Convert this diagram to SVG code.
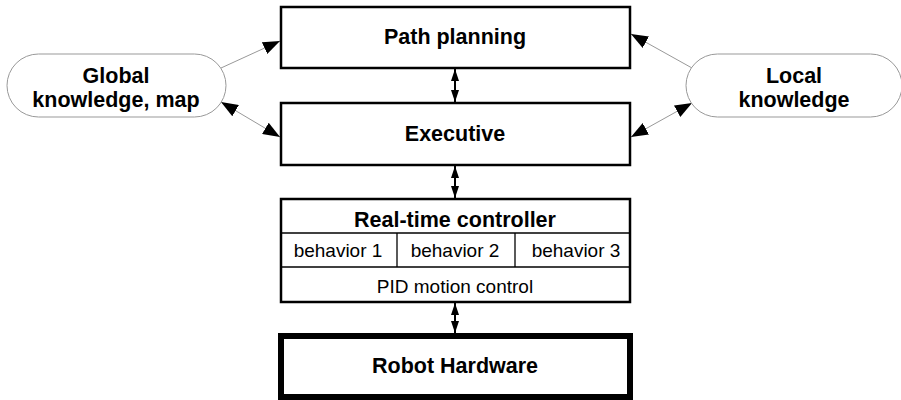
<svg xmlns="http://www.w3.org/2000/svg" width="901" height="400" viewBox="0 0 901 400">
<style>
.box{fill:#fff;stroke:#000;stroke-width:2.5}
.pill{fill:#fff;stroke:#999;stroke-width:1}
.div{stroke:#000;stroke-width:1.3}
.b{font-family:"Liberation Sans",Arial,sans-serif;font-weight:bold;font-size:21.5px;fill:#000;text-anchor:middle}
.r{font-family:"Liberation Sans",Arial,sans-serif;font-size:19px;fill:#000;text-anchor:middle}
.diag{stroke:#999;stroke-width:1;fill:none;marker-end:url(#big)}
.both{marker-start:url(#bigs)}
.vert{stroke:#000;stroke-width:2;fill:none;marker-end:url(#sm);marker-start:url(#sms)}
</style>
<defs>
<marker id="big" markerUnits="userSpaceOnUse" markerWidth="17" markerHeight="13" refX="17" refY="6.5" orient="auto"><path d="M0,0 L17,6.5 L0,13 Z" fill="#000"/></marker>
<marker id="bigs" markerUnits="userSpaceOnUse" markerWidth="17" markerHeight="13" refX="0" refY="6.5" orient="auto"><path d="M17,0 L0,6.5 L17,13 Z" fill="#000"/></marker>
<marker id="sm" markerUnits="userSpaceOnUse" markerWidth="12" markerHeight="8" refX="12" refY="4" orient="auto"><path d="M0,0 L12,4 L0,8 Z" fill="#000"/></marker>
<marker id="sms" markerUnits="userSpaceOnUse" markerWidth="12" markerHeight="8" refX="0" refY="4" orient="auto"><path d="M12,0 L0,4 L12,8 Z" fill="#000"/></marker>
</defs>
<g id="connectors">
<line class="diag" x1="221" y1="68" x2="280" y2="41"/>
<line class="diag both" x1="221" y1="102" x2="280" y2="137"/>
<line class="diag" x1="692" y1="68" x2="631" y2="34"/>
<line class="diag both" x1="692" y1="103" x2="631" y2="137"/>
<line class="vert" x1="455" y1="69" x2="455" y2="102"/>
<line class="vert" x1="455" y1="166" x2="455" y2="198"/>
<line class="vert" x1="455" y1="303" x2="455" y2="333"/>
</g>
<g id="global">
<rect class="pill" x="7" y="54" width="219" height="63" rx="31.5"/>
<text class="b" x="116" y="83">Global</text>
<text class="b" x="116" y="107">knowledge, map</text>
</g>
<g id="local">
<rect class="pill" x="686" y="54" width="216" height="63" rx="31.5"/>
<text class="b" x="794" y="83">Local</text>
<text class="b" x="794" y="107">knowledge</text>
</g>
<g id="path-planning">
<rect class="box" x="281" y="7" width="349" height="61"/>
<text class="b" x="455" y="44">Path planning</text>
</g>
<g id="executive">
<rect class="box" x="281" y="103" width="349" height="62"/>
<text class="b" x="455" y="141">Executive</text>
</g>
<g id="controller">
<rect class="box" x="281" y="199" width="349" height="103"/>
<line class="div" x1="281" y1="233" x2="630" y2="233"/>
<line class="div" x1="281" y1="267" x2="630" y2="267"/>
<line class="div" x1="397" y1="233" x2="397" y2="267"/>
<line class="div" x1="515" y1="233" x2="515" y2="267"/>
<text class="b" x="455" y="227">Real-time controller</text>
<text class="r" x="338" y="257">behavior 1</text>
<text class="r" x="455" y="257">behavior 2</text>
<text class="r" x="576" y="257">behavior 3</text>
<text class="r" x="455" y="293">PID motion control</text>
</g>
<g id="robot-hardware">
<rect x="281" y="336" width="349" height="61" fill="#fff" stroke="#000" stroke-width="6"/>
<text class="b" x="455" y="373">Robot Hardware</text>
</g>
</svg>
